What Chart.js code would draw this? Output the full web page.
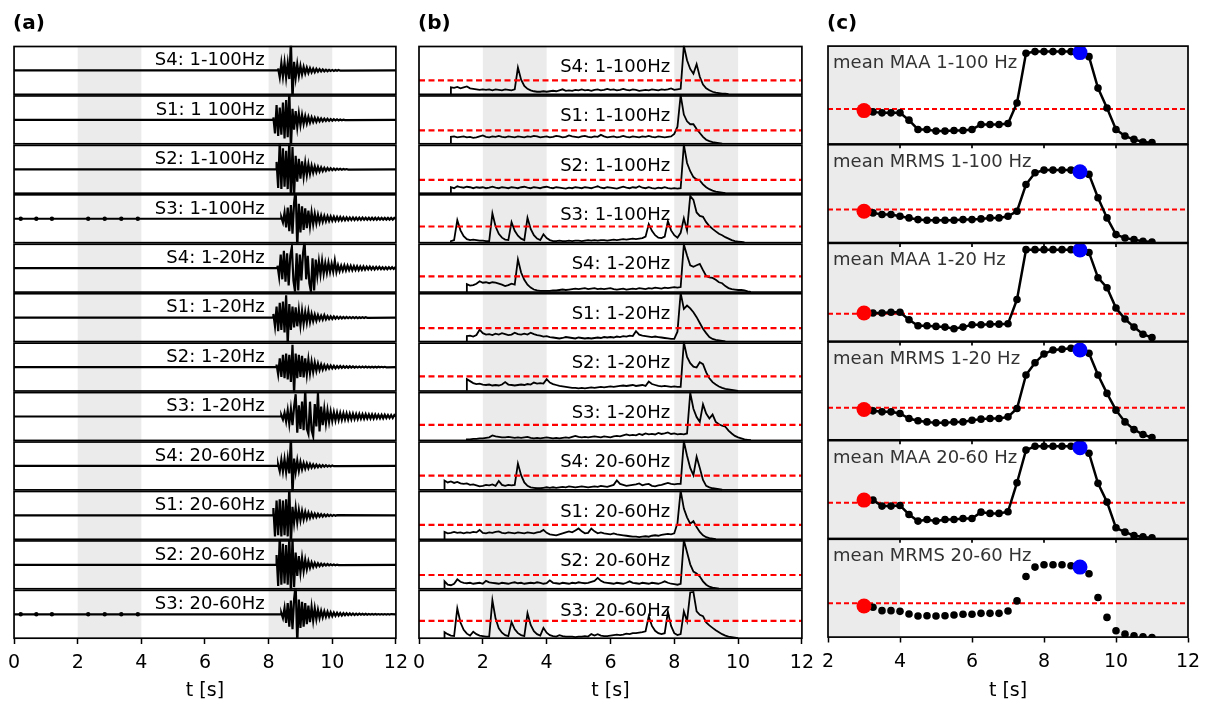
<!DOCTYPE html>
<html>
<head>
<meta charset="utf-8">
<title>Seismic traces, envelopes and mean amplitudes</title>
<script src="https://cdn.jsdelivr.net/npm/chart.js@4.4.1/dist/chart.umd.min.js"></script>
<style>
  body { margin: 0; background: #fff; width: 1213px; height: 709px; overflow: hidden; position: relative; }
  canvas { position: absolute; top: 0; }
</style>
</head>
<body>
<canvas id="panelA" width="416" height="709" style="left:0px"></canvas>
<canvas id="panelB" width="420" height="709" style="left:402px"></canvas>
<canvas id="panelC" width="401" height="709" style="left:812px"></canvas>
<script>
// ---------------------------------------------------------------------------
// LABELS
// ---------------------------------------------------------------------------
var labelsA = ['S4: 1-100Hz', 'S1: 1 100Hz', 'S2: 1-100Hz', 'S3: 1-100Hz',
               'S4: 1-20Hz', 'S1: 1-20Hz', 'S2: 1-20Hz', 'S3: 1-20Hz',
               'S4: 20-60Hz', 'S1: 20-60Hz', 'S2: 20-60Hz', 'S3: 20-60Hz'];
var labelsB = ['S4: 1-100Hz', 'S1: 1-100Hz', 'S2: 1-100Hz', 'S3: 1-100Hz',
               'S4: 1-20Hz', 'S1: 1-20Hz', 'S2: 1-20Hz', 'S3: 1-20Hz',
               'S4: 20-60Hz', 'S1: 20-60Hz', 'S2: 20-60Hz', 'S3: 20-60Hz'];
var labelsC = ['mean MAA 1-100 Hz', 'mean MRMS 1-100 Hz', 'mean MAA 1-20 Hz',
               'mean MRMS 1-20 Hz', 'mean MAA 20-60 Hz', 'mean MRMS 20-60 Hz'];

// ---------------------------------------------------------------------------
// (a) WAVEFORMS  (normalised amplitude, sampled every 0.05 s from onset)
// ---------------------------------------------------------------------------
var dtA = 0.05;
var onsetA = [8.30, 8.15, 8.25, 8.40, 8.28, 8.15, 8.25, 8.40, 8.30, 8.15, 8.25, 8.40];

var wS4_1_100 = [0.08,-0.28,0.3,-0.25,0.32,-0.3,0.28,-0.35,1.2,-1.2,
  0.35,-0.3,0.25,-0.22,0.18,-0.16,0.14,-0.12,0.11,-0.1,
  0.09,-0.08,0.07,-0.07,0.06,-0.05,0.05,-0.04,0.04,-0.035,
  0.03,-0.03,0.025,-0.02,0.02,-0.02,0.015,-0.015,0.015,-0.01];
var wS1_1_100 = [0.1,-0.55,0.6,-0.65,0.5,-0.6,0.7,-0.75,0.8,-0.7,
  1.2,-1.2,0.45,-0.4,0.35,-0.3,0.26,-0.22,0.2,-0.17,
  0.15,-0.14,0.12,-0.11,0.1,-0.09,0.08,-0.08,0.07,-0.06,
  0.06,-0.05,0.05,-0.045,0.04,-0.04,0.035,-0.03,0.03,-0.025,
  0.02,-0.02,0.015,-0.015,0.01,-0.01];
var wS2_1_100 = [0.3,-0.75,1.2,-0.8,0.85,-0.7,0.75,-0.8,1.2,-1.2,
  0.9,-1.1,0.55,-0.5,0.42,-0.38,0.32,-0.3,0.26,-0.24,
  0.2,-0.18,0.15,-0.14,0.12,-0.11,0.1,-0.09,0.08,-0.07,
  0.06,-0.06,0.05,-0.04,0.04,-0.035,0.03,-0.03,0.025,-0.02,
  0.02,-0.015,0.015,-0.01,0.01,-0.01];
var wS3_1_100 = [0.05,-0.15,0.25,-0.35,0.45,-0.5,0.55,-0.6,0.65,1.2,
  -1.2,0.6,-0.55,0.5,-0.45,0.42,-0.38,0.33,-0.3,0.26,
  -0.22,0.2,-0.18,0.16,-0.14,0.13,-0.12,0.11,-0.1,0.1,
  -0.09,0.09,-0.08,0.08,-0.075,0.07,-0.07,0.065,-0.065,0.06,
  -0.06,0.055,-0.055,0.05,-0.05,0.05,-0.05,0.045,-0.045,0.045,
  -0.045,0.045,-0.04,0.04,-0.04,0.04,-0.04,0.04,-0.04,0.04,
  -0.04,0.04,-0.035,0.035,-0.035,0.035,-0.035,0.035,-0.035,0.035,
  -0.035,0.035];
var wS4_1_20 = [0.1,-0.35,0.55,-0.45,0.7,-0.55,0.6,-0.7,0.5,0.86,
  -0.5,-0.95,0.6,-0.9,0.55,-0.5,0.6,1.1,-0.45,0.5,
  -0.6,-0.95,0.4,-0.9,0.35,-0.3,0.28,-0.25,0.3,-0.22,
  0.2,-0.18,0.22,-0.15,0.18,-0.14,0.3,-0.15,0.12,-0.12,
  0.1,-0.1,0.11,-0.09,0.1,-0.08,0.09,-0.08,0.08,-0.07,
  0.08,-0.07,0.07,-0.06,0.07,-0.06,0.06,-0.05,0.06,-0.05,
  0.05,-0.05,0.05,-0.04,0.05,-0.04,0.04,-0.04,0.04,-0.04,
  0.04,-0.03,0.04,-0.03,0.03];
var wS1_1_20 = [0.15,-0.35,0.45,-0.55,0.6,-0.5,0.65,-0.6,0.9,-1.1,
  0.55,-0.5,0.45,-0.4,0.42,-0.35,0.3,-0.32,0.28,-0.25,
  0.22,-0.2,0.25,-0.18,0.15,-0.14,0.12,-0.12,0.1,-0.09,
  0.08,-0.08,0.1,-0.07,0.06,-0.06,0.05,-0.05,0.05,-0.04,
  0.04,-0.04,0.035,-0.03,0.03,-0.03,0.025,-0.025,0.02,-0.02,
  0.02,-0.02,0.02,-0.02,0.015,-0.015,0.015,-0.015,0.015,-0.01];
var wS2_1_20 = [0.1,-0.3,0.35,-0.4,0.5,-0.45,0.55,-0.5,0.5,-0.6,
  0.9,-1.1,0.55,-0.45,0.5,-0.4,0.45,-0.42,0.35,-0.3,
  0.3,-0.25,0.22,-0.2,0.18,-0.15,0.14,-0.12,0.1,-0.1,
  0.08,-0.08,0.07,-0.06,0.06,-0.05,0.05,-0.05,0.04,-0.04,
  0.04,-0.035,0.035,-0.03,0.03,-0.03,0.03,-0.025,0.025,-0.025,
  0.02,-0.02,0.02,-0.02,0.02,-0.02,0.02,-0.015,0.015,-0.015,
  0.015,-0.015,0.015,-0.015,0.015,-0.01,0.01,-0.01,0.01,-0.01];
var wS3_1_20 = [0.05,-0.12,0.15,-0.2,0.25,-0.3,0.3,-0.35,0.4,0.9,
  -0.65,0.45,-0.5,0.6,-0.55,1.1,-0.5,-0.7,0.6,-0.55,
  -0.8,0.5,-0.4,0.95,-0.6,0.4,-0.35,0.3,-0.28,0.25,
  -0.22,0.2,-0.18,0.17,-0.16,0.15,-0.14,0.14,-0.13,0.13,
  -0.12,0.12,-0.12,0.11,-0.11,0.11,-0.1,0.1,-0.1,0.1,
  -0.09,0.09,-0.09,0.09,-0.08,0.08,-0.08,0.08,-0.08,0.08,
  -0.07,0.07,-0.07,0.07,-0.07,0.07,-0.06,0.06,-0.06,0.06,
  -0.06,0.06];
var wS4_20_60 = [0.05,-0.22,0.25,-0.22,0.28,-0.25,0.3,-0.3,1.2,-1.2,
  0.3,-0.25,0.22,-0.2,0.16,-0.14,0.12,-0.11,0.1,-0.09,
  0.08,-0.07,0.06,-0.06,0.05,-0.05,0.04,-0.04,0.035,-0.03,
  0.03,-0.025,0.02,-0.02,0.015,-0.01];
var wS1_20_60 = [0.3,-0.85,0.6,-0.8,0.65,-0.85,0.6,-0.8,0.65,-0.85,
  1.2,-1.2,0.35,-0.3,0.3,-0.28,0.22,-0.2,0.18,-0.16,
  0.14,-0.13,0.11,-0.1,0.09,-0.08,0.07,-0.07,0.06,-0.05,
  0.05,-0.045,0.04,-0.035,0.03,-0.03,0.025,-0.02,0.02,-0.015,
  0.01];
var wS2_20_60 = [0.4,-0.85,1.2,-0.8,0.85,-0.75,0.8,-0.8,1.2,-1.2,
  1.1,-0.9,0.5,-0.45,0.35,-0.32,0.28,-0.25,0.2,-0.18,
  0.14,-0.12,0.1,-0.09,0.08,-0.07,0.06,-0.05,0.05,-0.04,
  0.035,-0.03,0.03,-0.025,0.02,-0.02,0.015,-0.015,0.01,-0.01];
var wS3_20_60 = [0.05,-0.15,0.25,-0.35,0.45,-0.5,0.55,-0.6,0.6,1.2,
  -1.2,0.6,-0.55,0.5,-0.5,0.45,-0.4,0.35,-0.32,0.3,
  -0.26,0.24,-0.2,0.18,-0.15,0.14,-0.12,0.12,-0.1,0.1,
  -0.09,0.08,-0.08,0.07,-0.065,0.06,-0.055,0.05,-0.05,0.045,
  -0.04,0.04,-0.035,0.035,-0.03,0.03,-0.03,0.025,-0.025,0.025,
  -0.02,0.02,-0.02,0.02,-0.02,0.015,-0.015,0.015,-0.015,0.015,
  -0.01,0.01,-0.01,0.01,-0.01,0.01,-0.01,0.01,-0.01,0.01];

// small pre-event pulses visible on the S3 traces
var beadTimes = [0.21, 0.70, 1.19, 2.33, 2.85, 3.37, 3.89];

// ---------------------------------------------------------------------------
// (b) ENVELOPES  (sampled every 0.1 s from onset) and thresholds
// ---------------------------------------------------------------------------
var dtB = 0.1;
var onsetB = [1.0, 1.0, 1.0, 1.0, 1.5, 1.5, 1.5, 1.5, 0.8, 0.8, 0.8, 0.8];
var thrB = [0.284, 0.275, 0.27, 0.33, 0.32, 0.274, 0.296, 0.316, 0.29, 0.296, 0.28, 0.355];

var eS4_1_100 = [0.14,0.13,0.15,0.12,0.14,0.16,0.12,0.11,0.10,0.09,
  0.10,0.09,0.10,0.08,0.10,0.09,0.08,0.10,0.09,0.08,
  0.10,0.55,0.30,0.17,0.11,0.08,0.06,0.05,0.05,0.06,
  0.05,0.06,0.07,0.06,0.08,0.10,0.07,0.08,0.07,0.09,
  0.08,0.10,0.08,0.09,0.07,0.09,0.10,0.08,0.09,0.11,
  0.09,0.10,0.08,0.09,0.11,0.09,0.08,0.10,0.09,0.07,
  0.08,0.09,0.08,0.10,0.09,0.08,0.10,0.09,0.10,0.12,
  0.09,0.10,0.11,1.0,0.70,0.52,0.42,0.62,0.36,0.20,
  0.12,0.08,0.05,0.03,0.02,0.01,0.01,0];
var eS1_1_100 = [0.14,0.15,0.13,0.14,0.15,0.13,0.14,0.12,0.13,0.15,
  0.17,0.14,0.13,0.15,0.14,0.16,0.14,0.13,0.15,0.14,
  0.13,0.15,0.14,0.13,0.15,0.14,0.16,0.15,0.13,0.14,
  0.15,0.13,0.14,0.16,0.15,0.13,0.14,0.17,0.15,0.14,
  0.13,0.15,0.16,0.14,0.13,0.15,0.14,0.18,0.15,0.13,
  0.14,0.15,0.13,0.14,0.16,0.14,0.13,0.15,0.14,0.13,
  0.15,0.14,0.16,0.14,0.13,0.15,0.14,0.13,0.14,0.15,
  0.20,0.35,1.0,0.60,0.46,0.40,0.40,0.30,0.22,0.14,
  0.08,0.05,0.03,0.02,0.01,0];
var eS2_1_100 = [0.12,0.10,0.14,0.12,0.11,0.13,0.12,0.10,0.12,0.11,
  0.12,0.10,0.11,0.13,0.11,0.10,0.12,0.11,0.10,0.12,
  0.11,0.10,0.12,0.13,0.11,0.10,0.12,0.11,0.10,0.12,
  0.13,0.11,0.10,0.12,0.11,0.10,0.09,0.11,0.10,0.12,
  0.11,0.10,0.12,0.11,0.10,0.12,0.14,0.11,0.10,0.12,
  0.11,0.10,0.09,0.11,0.13,0.11,0.10,0.12,0.11,0.14,
  0.11,0.10,0.12,0.10,0.09,0.11,0.10,0.12,0.10,0.09,
  0.10,0.09,0.10,1.0,0.62,0.45,0.33,0.28,0.26,0.18,
  0.12,0.08,0.05,0.03,0.02,0.01,0];
var eS3_1_100 = [0.03,0.05,0.46,0.25,0.13,0.07,0.05,0.06,0.05,0.04,
  0.04,0.03,0.03,0.60,0.33,0.18,0.10,0.06,0.05,0.42,
  0.24,0.14,0.08,0.05,0.51,0.28,0.15,0.08,0.05,0.17,
  0.09,0.05,0.03,0.03,0.04,0.03,0.03,0.04,0.03,0.04,
  0.04,0.03,0.04,0.05,0.04,0.05,0.04,0.05,0.05,0.04,
  0.05,0.06,0.05,0.06,0.07,0.06,0.07,0.08,0.07,0.08,
  0.09,0.12,0.38,0.24,0.15,0.10,0.09,0.12,0.44,0.25,
  0.15,0.10,0.20,0.50,0.25,0.96,0.88,0.62,0.55,0.53,
  0.42,0.34,0.28,0.23,0.18,0.15,0.11,0.08,0.05,0.03,
  0.02,0.01,0];
var eS4_1_20 = [0.16,0.13,0.14,0.17,0.22,0.19,0.20,0.18,0.20,0.19,
  0.17,0.15,0.12,0.14,0.17,0.15,0.67,0.40,0.25,0.15,
  0.09,0.05,0.03,0.02,0.02,0.02,0.02,0.03,0.03,0.04,
  0.05,0.04,0.05,0.06,0.07,0.06,0.07,0.08,0.06,0.07,
  0.08,0.06,0.07,0.06,0.07,0.08,0.06,0.05,0.06,0.07,
  0.05,0.06,0.07,0.06,0.08,0.07,0.06,0.08,0.07,0.09,
  0.08,0.07,0.09,0.08,0.09,0.10,0.09,0.10,0.98,0.75,
  0.55,0.52,0.55,0.58,0.45,0.33,0.30,0.29,0.25,0.20,
  0.18,0.12,0.08,0.06,0.05,0.04,0.04,0.03,0.01,0];
var eS1_1_20 = [0.11,0.12,0.10,0.13,0.24,0.17,0.14,0.15,0.13,0.16,
  0.14,0.17,0.15,0.13,0.14,0.18,0.15,0.14,0.16,0.14,
  0.18,0.15,0.13,0.12,0.10,0.11,0.09,0.08,0.07,0.06,
  0.07,0.09,0.08,0.07,0.06,0.08,0.07,0.06,0.07,0.06,
  0.07,0.08,0.07,0.09,0.08,0.09,0.08,0.10,0.09,0.11,
  0.10,0.12,0.11,0.21,0.14,0.12,0.11,0.10,0.09,0.10,
  0.09,0.08,0.07,0.06,0.05,0.05,0.20,1.0,0.67,0.74,
  0.68,0.60,0.50,0.38,0.26,0.17,0.09,0.05,0.03,0.02,
  0.01,0];
var eS2_1_20 = [0.24,0.20,0.16,0.14,0.15,0.13,0.12,0.13,0.11,0.12,
  0.11,0.13,0.18,0.13,0.12,0.11,0.12,0.13,0.12,0.14,
  0.13,0.17,0.15,0.16,0.15,0.24,0.17,0.14,0.12,0.10,
  0.09,0.08,0.07,0.06,0.06,0.05,0.06,0.05,0.06,0.07,
  0.06,0.07,0.08,0.07,0.08,0.09,0.08,0.09,0.10,0.11,
  0.10,0.11,0.12,0.10,0.11,0.12,0.10,0.19,0.14,0.12,
  0.10,0.09,0.10,0.09,0.08,0.09,0.08,0.08,1.0,0.70,
  0.57,0.50,0.48,0.59,0.55,0.38,0.26,0.18,0.13,0.09,
  0.06,0.04,0.03,0.02,0.01,0];
var eS3_1_20 = [0.02,0.02,0.03,0.03,0.04,0.04,0.05,0.06,0.10,0.08,
  0.07,0.06,0.06,0.07,0.06,0.05,0.06,0.05,0.06,0.07,
  0.05,0.04,0.05,0.04,0.05,0.06,0.05,0.04,0.05,0.04,
  0.05,0.06,0.05,0.07,0.09,0.07,0.06,0.07,0.06,0.07,
  0.08,0.07,0.06,0.08,0.07,0.06,0.08,0.09,0.08,0.10,
  0.12,0.10,0.11,0.10,0.13,0.11,0.14,0.12,0.13,0.12,
  0.15,0.13,0.14,0.16,0.13,0.14,0.12,0.13,0.12,0.14,
  0.98,0.65,0.48,0.38,0.74,0.55,0.45,0.53,0.38,0.33,
  0.30,0.28,0.20,0.14,0.09,0.06,0.04,0.02,0.01,0];
var eS4_20_60 = [0.19,0.15,0.17,0.14,0.16,0.13,0.12,0.13,0.10,0.11,
  0.09,0.07,0.08,0.10,0.09,0.11,0.08,0.18,0.10,0.08,
  0.10,0.09,0.10,0.54,0.30,0.15,0.08,0.05,0.04,0.03,
  0.03,0.04,0.05,0.04,0.05,0.04,0.05,0.06,0.05,0.07,
  0.06,0.05,0.06,0.07,0.06,0.05,0.06,0.07,0.06,0.08,
  0.07,0.06,0.08,0.10,0.19,0.12,0.10,0.08,0.09,0.10,
  0.11,0.13,0.09,0.11,0.12,0.08,0.07,0.09,0.10,0.12,
  0.14,0.12,0.11,0.12,0.12,1.0,0.70,0.45,0.30,0.68,
  0.45,0.20,0.08,0.05,0.03,0.02,0.01,0];
var eS1_20_60 = [0.15,0.12,0.13,0.15,0.13,0.14,0.12,0.14,0.13,0.15,
  0.14,0.19,0.13,0.12,0.14,0.13,0.15,0.16,0.13,0.12,
  0.14,0.13,0.12,0.14,0.13,0.12,0.14,0.13,0.12,0.14,
  0.15,0.19,0.13,0.10,0.09,0.08,0.10,0.12,0.14,0.16,
  0.14,0.18,0.22,0.16,0.12,0.13,0.22,0.16,0.12,0.14,
  0.12,0.11,0.10,0.12,0.10,0.09,0.08,0.07,0.06,0.05,
  0.05,0.04,0.05,0.06,0.05,0.07,0.08,0.07,0.09,0.10,
  0.11,0.10,0.12,0.33,1.0,0.63,0.45,0.32,0.37,0.25,
  0.15,0.08,0.04,0.02,0.01,0];
var eS2_20_60 = [0.15,0.08,0.07,0.10,0.19,0.14,0.12,0.11,0.12,0.10,
  0.11,0.12,0.10,0.16,0.13,0.12,0.11,0.10,0.12,0.11,
  0.10,0.12,0.13,0.11,0.12,0.10,0.11,0.12,0.11,0.13,
  0.12,0.10,0.11,0.17,0.12,0.11,0.10,0.12,0.11,0.10,
  0.12,0.11,0.13,0.12,0.11,0.12,0.14,0.16,0.22,0.16,
  0.13,0.12,0.11,0.10,0.12,0.11,0.10,0.12,0.15,0.12,
  0.11,0.10,0.12,0.11,0.10,0.12,0.11,0.10,0.12,0.15,
  0.12,0.10,0.09,0.08,0.10,1.0,0.75,0.50,0.35,0.31,
  0.25,0.15,0.08,0.04,0.02,0.01,0];
var eS3_20_60 = [0.12,0.08,0.05,0.04,0.61,0.32,0.17,0.09,0.05,0.13,
  0.08,0.05,0.04,0.03,0.03,0.78,0.40,0.20,0.11,0.06,
  0.04,0.33,0.18,0.10,0.06,0.04,0.51,0.27,0.14,0.08,
  0.05,0.21,0.11,0.06,0.04,0.03,0.06,0.04,0.03,0.03,
  0.03,0.02,0.03,0.03,0.04,0.03,0.08,0.05,0.08,0.05,
  0.04,0.04,0.05,0.06,0.07,0.06,0.07,0.09,0.08,0.10,
  0.10,0.11,0.12,0.14,0.45,0.25,0.15,0.10,0.08,0.10,
  0.54,0.25,0.10,0.06,0.08,0.55,0.35,0.94,0.95,0.55,
  0.48,0.45,0.32,0.26,0.21,0.16,0.12,0.08,0.05,0.03,
  0.02,0.01,0];

// ---------------------------------------------------------------------------
// (c) MEAN AMPLITUDES  (one value every 0.25 s, normalised per sub-plot)
// ---------------------------------------------------------------------------
var cTimes = [3,3.25,3.5,3.75,4,4.25,4.5,4.75,5,5.25,5.5,5.75,6,6.25,6.5,6.75,
              7,7.25,7.5,7.75,8,8.25,8.5,8.75,9,9.25,9.5,9.75,10,10.25,10.5,10.75,11];
var refIndex = 0;     // red marker (t = 3 s)
var peakIndex = 24;   // blue marker (t = 9 s)
var thrC = [0.359, 0.340, 0.283, 0.329, 0.366, 0.347];

var maa_1_100 = [0.342,0.329,0.319,0.319,0.319,0.245,0.151,0.151,0.134,0.134,0.141,0.141,0.151,
  0.201,0.201,0.201,0.211,0.419,0.923,0.940,0.940,0.940,0.940,0.940,0.930,0.889,0.570,0.369,
  0.151,0.084,0.050,0.023,0.017];
var mrms_1_100 = [0.322,0.305,0.288,0.288,0.271,0.254,0.237,0.231,0.231,0.231,0.231,0.237,0.237,
  0.244,0.254,0.254,0.271,0.322,0.593,0.712,0.739,0.739,0.739,0.739,0.722,0.695,0.458,0.254,
  0.085,0.051,0.034,0.017,0.010];
var maa_1_20 = [0.290,0.290,0.290,0.297,0.297,0.222,0.160,0.160,0.154,0.147,0.130,0.147,0.171,
  0.171,0.177,0.177,0.181,0.427,0.932,0.932,0.932,0.932,0.932,0.932,0.928,0.904,0.648,0.546,
  0.341,0.229,0.147,0.075,0.041];
var mrms_1_20 = [0.312,0.298,0.288,0.288,0.271,0.220,0.197,0.186,0.176,0.176,0.186,0.186,0.203,
  0.214,0.220,0.220,0.237,0.322,0.661,0.786,0.875,0.915,0.922,0.932,0.915,0.881,0.661,0.475,
  0.305,0.186,0.108,0.058,0.027];
var maa_20_60 = [0.393,0.393,0.332,0.332,0.339,0.247,0.180,0.197,0.180,0.197,0.197,0.207,0.207,
  0.271,0.258,0.258,0.275,0.569,0.900,0.939,0.939,0.939,0.939,0.939,0.925,0.868,0.563,0.373,
  0.112,0.068,0.034,0.020,0.010];
var mrms_20_60 = [0.320,0.306,0.272,0.272,0.265,0.238,0.218,0.221,0.218,0.221,0.228,0.235,0.235,
  0.245,0.245,0.245,0.269,0.371,0.619,0.714,0.738,0.738,0.738,0.728,0.714,0.646,0.405,0.204,
  0.068,0.034,0.017,0.007,0.000];

// ---------------------------------------------------------------------------
// HELPERS
// ---------------------------------------------------------------------------
Chart.defaults.font.family = "'DejaVu Sans', sans-serif";
Chart.defaults.color = '#000';
Chart.defaults.animation = false;

var wavesA = [wS4_1_100, wS1_1_100, wS2_1_100, wS3_1_100, wS4_1_20, wS1_1_20, wS2_1_20, wS3_1_20,
              wS4_20_60, wS1_20_60, wS2_20_60, wS3_20_60];
var envB = [eS4_1_100, eS1_1_100, eS2_1_100, eS3_1_100, eS4_1_20, eS1_1_20, eS2_1_20, eS3_1_20,
            eS4_20_60, eS1_20_60, eS2_20_60, eS3_20_60];
var meanC = [maa_1_100, mrms_1_100, maa_1_20, mrms_1_20, maa_20_60, mrms_20_60];

// waveform: flat until onset, samples every dt, flat to the end of record
function waveSeries(t0, dt, vals) {
    var pts = [{x: 0, y: 0}, {x: t0, y: 0}];
    for (var i = 0; i < vals.length; i++) pts.push({x: t0 + i * dt, y: vals[i]});
    pts.push({x: 12, y: 0});
    return pts;
}
// envelope: starts at onset from the baseline
function envSeries(t0, dt, vals) {
    var pts = [{x: t0, y: 0}];
    for (var i = 0; i < vals.length; i++) pts.push({x: t0 + i * dt, y: vals[i]});
    return pts;
}
function hLine(x0, x1, y) {
    return [{x: x0, y: y}, {x: x1, y: y}];
}

// gray bands, frames, row labels and panel letter
function makePanelPlugin(o) {
    return {
        id: 'panel',
        beforeDatasetsDraw: function(chart) {
            var ctx = chart.ctx, a = chart.chartArea, x = chart.scales.x;
            ctx.save();
            ctx.fillStyle = '#ebebeb';
            o.bands.forEach(function(b) {
                var x0 = x.getPixelForValue(b[0]), x1 = x.getPixelForValue(b[1]);
                ctx.fillRect(x0, a.top, x1 - x0, a.bottom - a.top);
            });
            ctx.restore();
        },
        afterDatasetsDraw: function(chart) {
            var ctx = chart.ctx, a = chart.chartArea, x = chart.scales.x;
            ctx.save();
            ctx.strokeStyle = '#000';
            ctx.lineWidth = o.frameWidth;
            o.labels.forEach(function(txt, i) {
                var s = chart.scales['y' + i];
                ctx.strokeRect(a.left, s.top + o.inset, a.right - a.left, s.bottom - s.top - 2 * o.inset);
                if (o.innerTicks && i < o.labels.length - 1) {
                    ctx.beginPath();
                    o.innerTicks.forEach(function(t) {
                        var px = x.getPixelForValue(t);
                        ctx.moveTo(px, s.bottom);
                        ctx.lineTo(px, s.bottom + 4);
                    });
                    ctx.stroke();
                }
            });
            ctx.font = o.labelFont;
            ctx.fillStyle = o.labelColor;
            ctx.textAlign = o.labelAlign;
            ctx.textBaseline = 'alphabetic';
            o.labels.forEach(function(txt, i) {
                var s = chart.scales['y' + i];
                ctx.fillText(txt, x.getPixelForValue(o.labelAt), s.top + o.labelDy);
            });
            ctx.font = "bold 20px 'DejaVu Sans'";
            ctx.fillStyle = '#000';
            ctx.textAlign = 'left';
            ctx.fillText(o.letter, a.left - 1, 29);
            ctx.restore();
        }
    };
}

// bottom time axis; its height is fixed so the plot bottom sits where it should
function xAxis(min, height) {
    return {
        type: 'linear', min: min, max: 12,
        ticks: {stepSize: 2, font: {size: 19}, color: '#000', padding: 8, maxRotation: 0, autoSkip: false},
        grid: {drawOnChartArea: false, drawTicks: true, tickLength: 5, tickWidth: 1.5, tickColor: '#000'},
        border: {display: false},
        title: {display: true, text: 't [s]', font: {size: 19}, color: '#000', padding: {top: 0, bottom: 6.5}},
        afterFit: function(scale) { scale.height = height; }
    };
}
// one stacked y axis per sub-plot, first one on top
function rowAxes(scales, n, ymin, ymax) {
    for (var i = 0; i < n; i++) {
        scales['y' + i] = {type: 'linear', position: 'right', stack: 'rows', stackWeight: 1,
                           min: ymin, max: ymax, display: false};
    }
}

// ---------------------------------------------------------------------------
// PANEL (a)
// ---------------------------------------------------------------------------
var dsA = [];
wavesA.forEach(function(w, i) {
    dsA.push({data: waveSeries(onsetA[i], dtA, w), yAxisID: 'y' + i, borderColor: '#000',
              borderWidth: 2.2, pointRadius: 0, tension: 0, order: 2});
});
[3, 11].forEach(function(i) {
    dsA.push({data: beadTimes.map(function(t) { return {x: t, y: 0}; }), yAxisID: 'y' + i,
              showLine: false, pointRadius: 2.2, pointBorderWidth: 0, backgroundColor: '#000', order: 1});
});
var scalesA = {x: xAxis(0, 70)};
rowAxes(scalesA, 12, -1, 1);
new Chart(document.getElementById('panelA'), {
    type: 'line',
    data: {datasets: dsA},
    options: {
        responsive: false, animation: false, events: [],
        layout: {padding: {left: 12.3, right: 17.3, top: 45.7, bottom: 0}},
        scales: scalesA,
        plugins: {legend: {display: false}, tooltip: {enabled: false}}
    },
    plugins: [makePanelPlugin({bands: [[2, 4], [8, 10]], labels: labelsA, frameWidth: 1.7, inset: 0.8,
        labelFont: "18px 'DejaVu Sans'", labelColor: '#000', labelAlign: 'right', labelAt: 7.88,
        labelDy: 19.5, letter: '(a)'})]
});

// ---------------------------------------------------------------------------
// PANEL (b)
// ---------------------------------------------------------------------------
var dsB = [];
envB.forEach(function(e, i) {
    dsB.push({data: envSeries(onsetB[i], dtB, e), yAxisID: 'y' + i, borderColor: '#000',
              borderWidth: 1.8, pointRadius: 0, tension: 0, order: 2});
    dsB.push({data: hLine(0, 12, thrB[i]), yAxisID: 'y' + i, borderColor: '#ff0000',
              borderWidth: 2.2, borderDash: [6, 3.5], pointRadius: 0, order: 1});
});
var scalesB = {x: xAxis(0, 70)};
rowAxes(scalesB, 12, -0.02, 1);
new Chart(document.getElementById('panelB'), {
    type: 'line',
    data: {datasets: dsB},
    options: {
        responsive: false, animation: false, events: [],
        layout: {padding: {left: 17, right: 17, top: 45.7, bottom: 0}},
        scales: scalesB,
        plugins: {legend: {display: false}, tooltip: {enabled: false}}
    },
    plugins: [makePanelPlugin({bands: [[2, 4], [8, 10]], labels: labelsB, frameWidth: 1.7, inset: 0.8,
        labelFont: "18px 'DejaVu Sans'", labelColor: '#000', labelAlign: 'right', labelAt: 7.87,
        labelDy: 26, letter: '(b)'})]
});

// ---------------------------------------------------------------------------
// PANEL (c)
// ---------------------------------------------------------------------------
var dsC = [];
meanC.forEach(function(m, i) {
    var pts = cTimes.map(function(t, k) { return {x: t, y: m[k]}; });
    dsC.push({data: hLine(2, 12, thrC[i]), yAxisID: 'y' + i, borderColor: '#ff0000',
              borderWidth: 2, borderDash: [5, 3], pointRadius: 0, order: 4});
    dsC.push({data: pts, yAxisID: 'y' + i, borderColor: '#000', borderWidth: 2.5,
              showLine: i < 5, pointRadius: 3.8, pointBorderWidth: 0, backgroundColor: '#000',
              tension: 0, order: 3});
    dsC.push({data: [pts[refIndex]], yAxisID: 'y' + i, showLine: false, pointRadius: 7.5,
              pointBorderWidth: 0, backgroundColor: '#ff0000', order: 2});
    dsC.push({data: [pts[peakIndex]], yAxisID: 'y' + i, showLine: false, pointRadius: 7.5,
              pointBorderWidth: 0, backgroundColor: '#0000ff', order: 1});
});
var scalesC = {x: xAxis(2, 71.5)};
rowAxes(scalesC, 6, 0, 1);
new Chart(document.getElementById('panelC'), {
    type: 'line',
    data: {datasets: dsC},
    options: {
        responsive: false, animation: false, events: [],
        layout: {padding: {left: 16, right: 25, top: 45.7, bottom: 0}},
        scales: scalesC,
        plugins: {legend: {display: false}, tooltip: {enabled: false}}
    },
    plugins: [makePanelPlugin({bands: [[2, 4], [10, 12]], labels: labelsC, frameWidth: 1.7, inset: 0.4,
        labelFont: "18px 'DejaVu Sans'", labelColor: '#333', labelAlign: 'left', labelAt: 2.14,
        labelDy: 22.5, letter: '(c)', innerTicks: [4, 6, 8, 10]})]
});
</script>
</body>
</html>
